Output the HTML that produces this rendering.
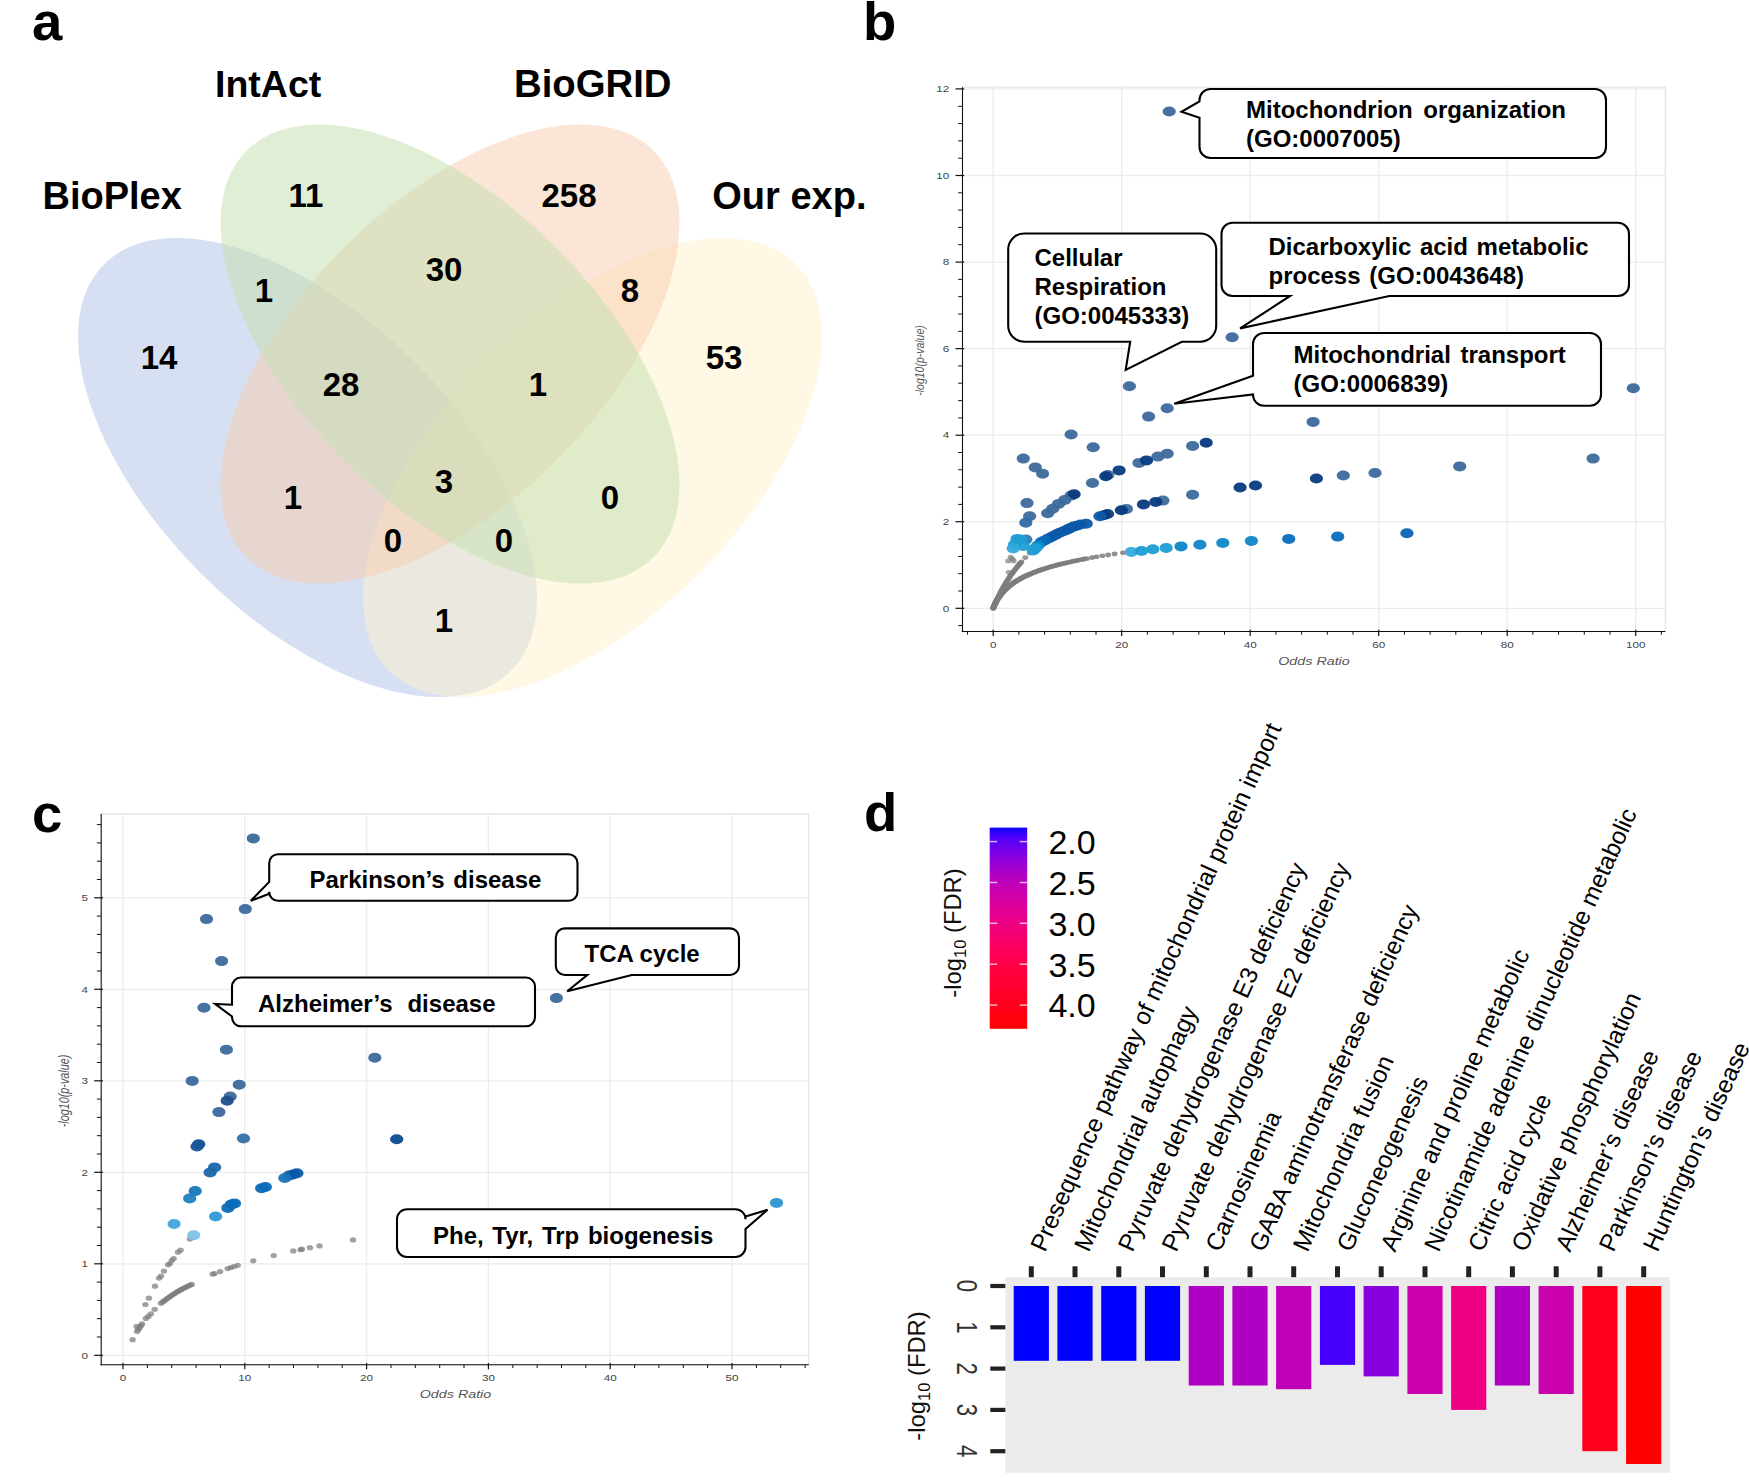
<!DOCTYPE html>
<html lang="en"><head><meta charset="utf-8"><title>Figure</title>
<style>html,body{margin:0;padding:0;background:#fff;}svg{display:block;}text{font-family:"Liberation Sans", Arial, Helvetica, sans-serif;}.pl{font-weight:700;font-size:54.5px;fill:#000;}.vl{font-weight:700;font-size:37.5px;fill:#000;}.vn{font-weight:700;font-size:33px;fill:#000;text-anchor:middle;}.cb{font-weight:700;font-size:24px;fill:#000;}.tk{font-size:9px;fill:#444;}.ax{font-size:11px;fill:#555;font-style:italic;}.dl{font-size:24.4px;fill:#000;}.lg{font-size:34px;fill:#000;}.ti{font-size:23.8px;fill:#111;}.yd{font-size:30px;fill:#333;text-anchor:middle;}</style></head><body>
<svg width="1749" height="1484" viewBox="0 0 1749 1484">
<rect width="1749" height="1484" fill="#fff"/>
<g id="panel-a">
<ellipse cx="307.5" cy="467.5" rx="287.6" ry="150.35" transform="rotate(45 307.5 467.5)" fill="#b4c7e7" fill-opacity="0.55"/>
<ellipse cx="592.5" cy="467.5" rx="287.6" ry="150.35" transform="rotate(-45 592.5 467.5)" fill="#fff2cc" fill-opacity="0.5"/>
<ellipse cx="450" cy="354" rx="287.6" ry="150.35" transform="rotate(-45 450 354)" fill="#f8cbad" fill-opacity="0.5"/>
<ellipse cx="450" cy="354" rx="287.6" ry="150.35" transform="rotate(45 450 354)" fill="#c5e0b4" fill-opacity="0.54"/>
<text class="pl" x="32" y="40">a</text>
<text class="vl" x="215" y="97">IntAct</text>
<text class="vl" x="514" y="96.7" style="font-size:38.3px">BioGRID</text>
<text class="vl" x="42.5" y="209" style="font-size:38px">BioPlex</text>
<text class="vl" x="712.3" y="209.3" style="font-size:38px">Our exp.</text>
<text class="vn" x="306" y="207">11</text>
<text class="vn" x="569" y="207">258</text>
<text class="vn" x="444" y="281">30</text>
<text class="vn" x="264" y="302">1</text>
<text class="vn" x="630" y="302">8</text>
<text class="vn" x="159" y="369">14</text>
<text class="vn" x="724" y="369">53</text>
<text class="vn" x="341" y="396">28</text>
<text class="vn" x="538" y="396">1</text>
<text class="vn" x="444" y="493">3</text>
<text class="vn" x="293" y="509">1</text>
<text class="vn" x="610" y="509">0</text>
<text class="vn" x="393" y="552">0</text>
<text class="vn" x="504" y="552">0</text>
<text class="vn" x="444" y="632">1</text>
</g>
<g id="panel-b">
<text class="pl" x="863" y="40">b</text>
<rect x="962.5" y="87.2" width="702.8" height="544.3" fill="#fff" stroke="#e6e6e6" stroke-width="1.4"/>
<line x1="993.2" y1="87.2" x2="993.2" y2="631.5" stroke="#ececec" stroke-width="1.3"/>
<line x1="1121.7" y1="87.2" x2="1121.7" y2="631.5" stroke="#ececec" stroke-width="1.3"/>
<line x1="1250.2" y1="87.2" x2="1250.2" y2="631.5" stroke="#ececec" stroke-width="1.3"/>
<line x1="1378.7" y1="87.2" x2="1378.7" y2="631.5" stroke="#ececec" stroke-width="1.3"/>
<line x1="1507.2" y1="87.2" x2="1507.2" y2="631.5" stroke="#ececec" stroke-width="1.3"/>
<line x1="1635.7" y1="87.2" x2="1635.7" y2="631.5" stroke="#ececec" stroke-width="1.3"/>
<line x1="962.5" y1="608.3" x2="1665.3" y2="608.3" stroke="#ececec" stroke-width="1.3"/>
<line x1="962.5" y1="521.7" x2="1665.3" y2="521.7" stroke="#ececec" stroke-width="1.3"/>
<line x1="962.5" y1="435.2" x2="1665.3" y2="435.2" stroke="#ececec" stroke-width="1.3"/>
<line x1="962.5" y1="348.6" x2="1665.3" y2="348.6" stroke="#ececec" stroke-width="1.3"/>
<line x1="962.5" y1="262.1" x2="1665.3" y2="262.1" stroke="#ececec" stroke-width="1.3"/>
<line x1="962.5" y1="175.5" x2="1665.3" y2="175.5" stroke="#ececec" stroke-width="1.3"/>
<line x1="962.5" y1="88.9" x2="1665.3" y2="88.9" stroke="#ececec" stroke-width="1.3"/>
<line x1="962.5" y1="87.2" x2="962.5" y2="632.0" stroke="#111" stroke-width="1.05"/>
<line x1="961.7" y1="631.5" x2="1665.3" y2="631.5" stroke="#111" stroke-width="1.05"/>
<line x1="993.2" y1="629.7" x2="993.2" y2="636.0" stroke="#111" stroke-width="1.2"/>
<text class="tk" text-anchor="middle" transform="translate(993.2 648.0) scale(1.3 1)">0</text>
<line x1="1121.7" y1="629.7" x2="1121.7" y2="636.0" stroke="#111" stroke-width="1.2"/>
<text class="tk" text-anchor="middle" transform="translate(1121.7 648.0) scale(1.3 1)">20</text>
<line x1="1250.2" y1="629.7" x2="1250.2" y2="636.0" stroke="#111" stroke-width="1.2"/>
<text class="tk" text-anchor="middle" transform="translate(1250.2 648.0) scale(1.3 1)">40</text>
<line x1="1378.7" y1="629.7" x2="1378.7" y2="636.0" stroke="#111" stroke-width="1.2"/>
<text class="tk" text-anchor="middle" transform="translate(1378.7 648.0) scale(1.3 1)">60</text>
<line x1="1507.2" y1="629.7" x2="1507.2" y2="636.0" stroke="#111" stroke-width="1.2"/>
<text class="tk" text-anchor="middle" transform="translate(1507.2 648.0) scale(1.3 1)">80</text>
<line x1="1635.7" y1="629.7" x2="1635.7" y2="636.0" stroke="#111" stroke-width="1.2"/>
<text class="tk" text-anchor="middle" transform="translate(1635.7 648.0) scale(1.3 1)">100</text>
<line x1="967.5" y1="631.5" x2="967.5" y2="634.7" stroke="#111" stroke-width="1"/>
<line x1="1018.9" y1="631.5" x2="1018.9" y2="634.7" stroke="#111" stroke-width="1"/>
<line x1="1044.6" y1="631.5" x2="1044.6" y2="634.7" stroke="#111" stroke-width="1"/>
<line x1="1070.3" y1="631.5" x2="1070.3" y2="634.7" stroke="#111" stroke-width="1"/>
<line x1="1096.0" y1="631.5" x2="1096.0" y2="634.7" stroke="#111" stroke-width="1"/>
<line x1="1147.4" y1="631.5" x2="1147.4" y2="634.7" stroke="#111" stroke-width="1"/>
<line x1="1173.1" y1="631.5" x2="1173.1" y2="634.7" stroke="#111" stroke-width="1"/>
<line x1="1198.8" y1="631.5" x2="1198.8" y2="634.7" stroke="#111" stroke-width="1"/>
<line x1="1224.5" y1="631.5" x2="1224.5" y2="634.7" stroke="#111" stroke-width="1"/>
<line x1="1275.9" y1="631.5" x2="1275.9" y2="634.7" stroke="#111" stroke-width="1"/>
<line x1="1301.6" y1="631.5" x2="1301.6" y2="634.7" stroke="#111" stroke-width="1"/>
<line x1="1327.3" y1="631.5" x2="1327.3" y2="634.7" stroke="#111" stroke-width="1"/>
<line x1="1353.0" y1="631.5" x2="1353.0" y2="634.7" stroke="#111" stroke-width="1"/>
<line x1="1404.4" y1="631.5" x2="1404.4" y2="634.7" stroke="#111" stroke-width="1"/>
<line x1="1430.1" y1="631.5" x2="1430.1" y2="634.7" stroke="#111" stroke-width="1"/>
<line x1="1455.8" y1="631.5" x2="1455.8" y2="634.7" stroke="#111" stroke-width="1"/>
<line x1="1481.5" y1="631.5" x2="1481.5" y2="634.7" stroke="#111" stroke-width="1"/>
<line x1="1532.9" y1="631.5" x2="1532.9" y2="634.7" stroke="#111" stroke-width="1"/>
<line x1="1558.6" y1="631.5" x2="1558.6" y2="634.7" stroke="#111" stroke-width="1"/>
<line x1="1584.3" y1="631.5" x2="1584.3" y2="634.7" stroke="#111" stroke-width="1"/>
<line x1="1610.0" y1="631.5" x2="1610.0" y2="634.7" stroke="#111" stroke-width="1"/>
<line x1="1661.4" y1="631.5" x2="1661.4" y2="634.7" stroke="#111" stroke-width="1"/>
<line x1="955.5" y1="608.3" x2="964.2" y2="608.3" stroke="#111" stroke-width="1.2"/>
<text class="tk" text-anchor="end" transform="translate(949.2 611.5) scale(1.3 1)">0</text>
<line x1="955.5" y1="521.7" x2="964.2" y2="521.7" stroke="#111" stroke-width="1.2"/>
<text class="tk" text-anchor="end" transform="translate(949.2 524.9) scale(1.3 1)">2</text>
<line x1="955.5" y1="435.2" x2="964.2" y2="435.2" stroke="#111" stroke-width="1.2"/>
<text class="tk" text-anchor="end" transform="translate(949.2 438.4) scale(1.3 1)">4</text>
<line x1="955.5" y1="348.6" x2="964.2" y2="348.6" stroke="#111" stroke-width="1.2"/>
<text class="tk" text-anchor="end" transform="translate(949.2 351.8) scale(1.3 1)">6</text>
<line x1="955.5" y1="262.1" x2="964.2" y2="262.1" stroke="#111" stroke-width="1.2"/>
<text class="tk" text-anchor="end" transform="translate(949.2 265.3) scale(1.3 1)">8</text>
<line x1="955.5" y1="175.5" x2="964.2" y2="175.5" stroke="#111" stroke-width="1.2"/>
<text class="tk" text-anchor="end" transform="translate(949.2 178.7) scale(1.3 1)">10</text>
<line x1="955.5" y1="88.9" x2="964.2" y2="88.9" stroke="#111" stroke-width="1.2"/>
<text class="tk" text-anchor="end" transform="translate(949.2 92.1) scale(1.3 1)">12</text>
<line x1="958.2" y1="625.6" x2="962.5" y2="625.6" stroke="#111" stroke-width="1"/>
<line x1="958.2" y1="591.0" x2="962.5" y2="591.0" stroke="#111" stroke-width="1"/>
<line x1="958.2" y1="573.7" x2="962.5" y2="573.7" stroke="#111" stroke-width="1"/>
<line x1="958.2" y1="556.4" x2="962.5" y2="556.4" stroke="#111" stroke-width="1"/>
<line x1="958.2" y1="539.1" x2="962.5" y2="539.1" stroke="#111" stroke-width="1"/>
<line x1="958.2" y1="504.4" x2="962.5" y2="504.4" stroke="#111" stroke-width="1"/>
<line x1="958.2" y1="487.1" x2="962.5" y2="487.1" stroke="#111" stroke-width="1"/>
<line x1="958.2" y1="469.8" x2="962.5" y2="469.8" stroke="#111" stroke-width="1"/>
<line x1="958.2" y1="452.5" x2="962.5" y2="452.5" stroke="#111" stroke-width="1"/>
<line x1="958.2" y1="417.9" x2="962.5" y2="417.9" stroke="#111" stroke-width="1"/>
<line x1="958.2" y1="400.6" x2="962.5" y2="400.6" stroke="#111" stroke-width="1"/>
<line x1="958.2" y1="383.2" x2="962.5" y2="383.2" stroke="#111" stroke-width="1"/>
<line x1="958.2" y1="365.9" x2="962.5" y2="365.9" stroke="#111" stroke-width="1"/>
<line x1="958.2" y1="331.3" x2="962.5" y2="331.3" stroke="#111" stroke-width="1"/>
<line x1="958.2" y1="314.0" x2="962.5" y2="314.0" stroke="#111" stroke-width="1"/>
<line x1="958.2" y1="296.7" x2="962.5" y2="296.7" stroke="#111" stroke-width="1"/>
<line x1="958.2" y1="279.4" x2="962.5" y2="279.4" stroke="#111" stroke-width="1"/>
<line x1="958.2" y1="244.7" x2="962.5" y2="244.7" stroke="#111" stroke-width="1"/>
<line x1="958.2" y1="227.4" x2="962.5" y2="227.4" stroke="#111" stroke-width="1"/>
<line x1="958.2" y1="210.1" x2="962.5" y2="210.1" stroke="#111" stroke-width="1"/>
<line x1="958.2" y1="192.8" x2="962.5" y2="192.8" stroke="#111" stroke-width="1"/>
<line x1="958.2" y1="158.2" x2="962.5" y2="158.2" stroke="#111" stroke-width="1"/>
<line x1="958.2" y1="140.9" x2="962.5" y2="140.9" stroke="#111" stroke-width="1"/>
<line x1="958.2" y1="123.6" x2="962.5" y2="123.6" stroke="#111" stroke-width="1"/>
<line x1="958.2" y1="106.3" x2="962.5" y2="106.3" stroke="#111" stroke-width="1"/>
<text class="ax" text-anchor="middle" transform="translate(1314 664.5) scale(1.3 1)">Odds Ratio</text>
<text class="ax" style="font-size:10.5px" text-anchor="middle" transform="translate(923.7 360.5) scale(1.3 1) rotate(-90)">-log10(p-value)</text>
<ellipse cx="993.2" cy="608.3" rx="3.0" ry="2.4" fill="#7d7d7d" fill-opacity="0.92"/>
<ellipse cx="993.4" cy="607.8" rx="3.0" ry="2.4" fill="#7d7d7d" fill-opacity="0.92"/>
<ellipse cx="993.6" cy="607.3" rx="3.0" ry="2.4" fill="#7d7d7d" fill-opacity="0.92"/>
<ellipse cx="993.8" cy="606.8" rx="3.0" ry="2.4" fill="#7d7d7d" fill-opacity="0.92"/>
<ellipse cx="994.0" cy="606.3" rx="3.0" ry="2.4" fill="#7d7d7d" fill-opacity="0.92"/>
<ellipse cx="994.2" cy="605.8" rx="3.0" ry="2.4" fill="#7d7d7d" fill-opacity="0.92"/>
<ellipse cx="994.4" cy="605.3" rx="3.0" ry="2.4" fill="#7d7d7d" fill-opacity="0.92"/>
<ellipse cx="994.7" cy="604.7" rx="3.0" ry="2.4" fill="#7d7d7d" fill-opacity="0.92"/>
<ellipse cx="994.9" cy="604.2" rx="3.0" ry="2.4" fill="#7d7d7d" fill-opacity="0.92"/>
<ellipse cx="995.2" cy="603.7" rx="3.0" ry="2.4" fill="#7d7d7d" fill-opacity="0.92"/>
<ellipse cx="995.4" cy="603.2" rx="3.0" ry="2.4" fill="#7d7d7d" fill-opacity="0.92"/>
<ellipse cx="995.7" cy="602.7" rx="3.0" ry="2.4" fill="#7d7d7d" fill-opacity="0.92"/>
<ellipse cx="995.9" cy="602.2" rx="3.0" ry="2.4" fill="#7d7d7d" fill-opacity="0.92"/>
<ellipse cx="996.2" cy="601.7" rx="3.0" ry="2.4" fill="#7d7d7d" fill-opacity="0.92"/>
<ellipse cx="996.5" cy="601.1" rx="3.0" ry="2.4" fill="#7d7d7d" fill-opacity="0.92"/>
<ellipse cx="996.8" cy="600.6" rx="3.0" ry="2.4" fill="#7d7d7d" fill-opacity="0.92"/>
<ellipse cx="997.1" cy="600.1" rx="3.0" ry="2.4" fill="#7d7d7d" fill-opacity="0.92"/>
<ellipse cx="997.4" cy="599.6" rx="3.0" ry="2.4" fill="#7d7d7d" fill-opacity="0.92"/>
<ellipse cx="997.7" cy="599.0" rx="3.0" ry="2.4" fill="#7d7d7d" fill-opacity="0.92"/>
<ellipse cx="998.0" cy="598.5" rx="3.0" ry="2.4" fill="#7d7d7d" fill-opacity="0.92"/>
<ellipse cx="998.4" cy="598.0" rx="3.0" ry="2.4" fill="#7d7d7d" fill-opacity="0.92"/>
<ellipse cx="998.7" cy="597.5" rx="3.0" ry="2.4" fill="#7d7d7d" fill-opacity="0.92"/>
<ellipse cx="999.1" cy="596.9" rx="3.0" ry="2.4" fill="#7d7d7d" fill-opacity="0.92"/>
<ellipse cx="999.5" cy="596.4" rx="3.0" ry="2.4" fill="#7d7d7d" fill-opacity="0.92"/>
<ellipse cx="999.8" cy="595.9" rx="3.0" ry="2.4" fill="#7d7d7d" fill-opacity="0.92"/>
<ellipse cx="1000.2" cy="595.4" rx="3.0" ry="2.4" fill="#7d7d7d" fill-opacity="0.92"/>
<ellipse cx="1000.6" cy="594.8" rx="3.0" ry="2.4" fill="#7d7d7d" fill-opacity="0.92"/>
<ellipse cx="1001.0" cy="594.3" rx="3.0" ry="2.4" fill="#7d7d7d" fill-opacity="0.92"/>
<ellipse cx="1001.5" cy="593.8" rx="3.0" ry="2.4" fill="#7d7d7d" fill-opacity="0.92"/>
<ellipse cx="1001.9" cy="593.2" rx="3.0" ry="2.4" fill="#7d7d7d" fill-opacity="0.92"/>
<ellipse cx="1002.4" cy="592.7" rx="3.0" ry="2.4" fill="#7d7d7d" fill-opacity="0.92"/>
<ellipse cx="1002.8" cy="592.2" rx="3.0" ry="2.4" fill="#7d7d7d" fill-opacity="0.92"/>
<ellipse cx="1003.3" cy="591.6" rx="3.0" ry="2.4" fill="#7d7d7d" fill-opacity="0.92"/>
<ellipse cx="1003.8" cy="591.1" rx="3.0" ry="2.4" fill="#7d7d7d" fill-opacity="0.92"/>
<ellipse cx="1004.3" cy="590.6" rx="3.0" ry="2.4" fill="#7d7d7d" fill-opacity="0.92"/>
<ellipse cx="1004.9" cy="590.0" rx="3.0" ry="2.4" fill="#7d7d7d" fill-opacity="0.92"/>
<ellipse cx="1005.4" cy="589.5" rx="3.0" ry="2.4" fill="#7d7d7d" fill-opacity="0.92"/>
<ellipse cx="1006.0" cy="589.0" rx="3.0" ry="2.4" fill="#7d7d7d" fill-opacity="0.92"/>
<ellipse cx="1006.5" cy="588.4" rx="3.0" ry="2.4" fill="#7d7d7d" fill-opacity="0.92"/>
<ellipse cx="1007.1" cy="587.9" rx="3.0" ry="2.4" fill="#7d7d7d" fill-opacity="0.92"/>
<ellipse cx="1007.7" cy="587.4" rx="3.0" ry="2.4" fill="#7d7d7d" fill-opacity="0.92"/>
<ellipse cx="1008.4" cy="586.8" rx="3.0" ry="2.4" fill="#7d7d7d" fill-opacity="0.92"/>
<ellipse cx="1009.0" cy="586.3" rx="3.0" ry="2.4" fill="#7d7d7d" fill-opacity="0.92"/>
<ellipse cx="1009.7" cy="585.7" rx="3.0" ry="2.4" fill="#7d7d7d" fill-opacity="0.92"/>
<ellipse cx="1010.4" cy="585.2" rx="3.0" ry="2.4" fill="#7d7d7d" fill-opacity="0.92"/>
<ellipse cx="1011.1" cy="584.7" rx="3.0" ry="2.4" fill="#7d7d7d" fill-opacity="0.92"/>
<ellipse cx="1011.8" cy="584.1" rx="3.0" ry="2.4" fill="#7d7d7d" fill-opacity="0.92"/>
<ellipse cx="1012.6" cy="583.6" rx="3.0" ry="2.4" fill="#7d7d7d" fill-opacity="0.92"/>
<ellipse cx="1013.3" cy="583.0" rx="3.0" ry="2.4" fill="#7d7d7d" fill-opacity="0.92"/>
<ellipse cx="1014.1" cy="582.5" rx="3.0" ry="2.4" fill="#7d7d7d" fill-opacity="0.92"/>
<ellipse cx="1014.9" cy="582.0" rx="3.0" ry="2.4" fill="#7d7d7d" fill-opacity="0.92"/>
<ellipse cx="1015.8" cy="581.4" rx="3.0" ry="2.4" fill="#7d7d7d" fill-opacity="0.92"/>
<ellipse cx="1016.7" cy="580.9" rx="3.0" ry="2.4" fill="#7d7d7d" fill-opacity="0.92"/>
<ellipse cx="1017.6" cy="580.3" rx="3.0" ry="2.4" fill="#7d7d7d" fill-opacity="0.92"/>
<ellipse cx="1018.5" cy="579.8" rx="3.0" ry="2.4" fill="#7d7d7d" fill-opacity="0.92"/>
<ellipse cx="1019.4" cy="579.3" rx="3.0" ry="2.4" fill="#7d7d7d" fill-opacity="0.92"/>
<ellipse cx="1020.4" cy="578.7" rx="3.0" ry="2.4" fill="#7d7d7d" fill-opacity="0.92"/>
<ellipse cx="1021.4" cy="578.2" rx="3.0" ry="2.4" fill="#7d7d7d" fill-opacity="0.92"/>
<ellipse cx="1022.5" cy="577.6" rx="3.0" ry="2.4" fill="#7d7d7d" fill-opacity="0.92"/>
<ellipse cx="1023.5" cy="577.1" rx="3.0" ry="2.4" fill="#7d7d7d" fill-opacity="0.92"/>
<ellipse cx="1024.6" cy="576.5" rx="3.0" ry="2.4" fill="#7d7d7d" fill-opacity="0.92"/>
<ellipse cx="1025.8" cy="576.0" rx="3.0" ry="2.4" fill="#7d7d7d" fill-opacity="0.92"/>
<ellipse cx="1026.9" cy="575.4" rx="3.0" ry="2.4" fill="#7d7d7d" fill-opacity="0.92"/>
<ellipse cx="1028.1" cy="574.9" rx="3.0" ry="2.4" fill="#7d7d7d" fill-opacity="0.92"/>
<ellipse cx="1029.4" cy="574.4" rx="3.0" ry="2.4" fill="#7d7d7d" fill-opacity="0.92"/>
<ellipse cx="1030.7" cy="573.8" rx="3.0" ry="2.4" fill="#7d7d7d" fill-opacity="0.92"/>
<ellipse cx="1032.0" cy="573.3" rx="3.0" ry="2.4" fill="#7d7d7d" fill-opacity="0.92"/>
<ellipse cx="1033.3" cy="572.7" rx="3.0" ry="2.4" fill="#7d7d7d" fill-opacity="0.92"/>
<ellipse cx="1034.7" cy="572.2" rx="3.0" ry="2.4" fill="#7d7d7d" fill-opacity="0.92"/>
<ellipse cx="1036.2" cy="571.6" rx="3.0" ry="2.4" fill="#7d7d7d" fill-opacity="0.92"/>
<ellipse cx="1037.6" cy="571.1" rx="3.0" ry="2.4" fill="#7d7d7d" fill-opacity="0.92"/>
<ellipse cx="1039.2" cy="570.5" rx="3.0" ry="2.4" fill="#7d7d7d" fill-opacity="0.92"/>
<ellipse cx="1040.7" cy="570.0" rx="3.0" ry="2.4" fill="#7d7d7d" fill-opacity="0.92"/>
<ellipse cx="1042.4" cy="569.4" rx="3.0" ry="2.4" fill="#7d7d7d" fill-opacity="0.92"/>
<ellipse cx="1044.0" cy="568.9" rx="3.0" ry="2.4" fill="#7d7d7d" fill-opacity="0.92"/>
<ellipse cx="1045.7" cy="568.3" rx="3.0" ry="2.4" fill="#7d7d7d" fill-opacity="0.92"/>
<ellipse cx="1047.5" cy="567.8" rx="3.0" ry="2.4" fill="#7d7d7d" fill-opacity="0.92"/>
<ellipse cx="1049.3" cy="567.2" rx="3.0" ry="2.4" fill="#7d7d7d" fill-opacity="0.92"/>
<ellipse cx="1051.2" cy="566.7" rx="3.0" ry="2.4" fill="#7d7d7d" fill-opacity="0.92"/>
<ellipse cx="1053.2" cy="566.1" rx="3.0" ry="2.4" fill="#7d7d7d" fill-opacity="0.92"/>
<ellipse cx="1055.1" cy="565.6" rx="3.0" ry="2.4" fill="#7d7d7d" fill-opacity="0.92"/>
<ellipse cx="1057.2" cy="565.0" rx="3.0" ry="2.4" fill="#7d7d7d" fill-opacity="0.92"/>
<ellipse cx="1059.3" cy="564.5" rx="3.0" ry="2.4" fill="#7d7d7d" fill-opacity="0.92"/>
<ellipse cx="1061.5" cy="563.9" rx="3.0" ry="2.4" fill="#7d7d7d" fill-opacity="0.92"/>
<ellipse cx="1063.7" cy="563.4" rx="3.0" ry="2.4" fill="#7d7d7d" fill-opacity="0.92"/>
<ellipse cx="1066.0" cy="562.9" rx="3.0" ry="2.4" fill="#7d7d7d" fill-opacity="0.92"/>
<ellipse cx="1068.4" cy="562.3" rx="3.0" ry="2.4" fill="#7d7d7d" fill-opacity="0.92"/>
<ellipse cx="1070.9" cy="561.8" rx="3.0" ry="2.4" fill="#7d7d7d" fill-opacity="0.92"/>
<ellipse cx="1073.4" cy="561.2" rx="3.0" ry="2.4" fill="#7d7d7d" fill-opacity="0.92"/>
<ellipse cx="1076.0" cy="560.7" rx="3.0" ry="2.4" fill="#7d7d7d" fill-opacity="0.92"/>
<ellipse cx="1078.7" cy="560.1" rx="3.0" ry="2.4" fill="#7d7d7d" fill-opacity="0.92"/>
<ellipse cx="1081.4" cy="559.6" rx="3.0" ry="2.4" fill="#7d7d7d" fill-opacity="0.92"/>
<ellipse cx="1084.3" cy="559.0" rx="3.0" ry="2.4" fill="#7d7d7d" fill-opacity="0.92"/>
<ellipse cx="1087.0" cy="558.5" rx="2.9" ry="2.3" fill="#7d7d7d" fill-opacity="0.85"/>
<ellipse cx="1092.1" cy="557.6" rx="2.9" ry="2.3" fill="#7d7d7d" fill-opacity="0.85"/>
<ellipse cx="1096.6" cy="556.8" rx="2.9" ry="2.3" fill="#7d7d7d" fill-opacity="0.85"/>
<ellipse cx="1102.4" cy="555.8" rx="2.9" ry="2.3" fill="#7d7d7d" fill-opacity="0.85"/>
<ellipse cx="1108.2" cy="554.9" rx="2.9" ry="2.3" fill="#7d7d7d" fill-opacity="0.85"/>
<ellipse cx="1114.6" cy="553.9" rx="2.9" ry="2.3" fill="#7d7d7d" fill-opacity="0.85"/>
<ellipse cx="1123.0" cy="552.8" rx="2.9" ry="2.3" fill="#7d7d7d" fill-opacity="0.85"/>
<ellipse cx="993.2" cy="608.3" rx="2.8" ry="2.2" fill="#7d7d7d" fill-opacity="0.8"/>
<ellipse cx="993.8" cy="606.8" rx="2.8" ry="2.2" fill="#7d7d7d" fill-opacity="0.8"/>
<ellipse cx="994.4" cy="605.4" rx="2.8" ry="2.2" fill="#7d7d7d" fill-opacity="0.8"/>
<ellipse cx="994.9" cy="604.1" rx="2.8" ry="2.2" fill="#7d7d7d" fill-opacity="0.8"/>
<ellipse cx="995.5" cy="602.7" rx="2.8" ry="2.2" fill="#7d7d7d" fill-opacity="0.8"/>
<ellipse cx="996.1" cy="601.4" rx="2.8" ry="2.2" fill="#7d7d7d" fill-opacity="0.8"/>
<ellipse cx="996.7" cy="600.1" rx="2.8" ry="2.2" fill="#7d7d7d" fill-opacity="0.8"/>
<ellipse cx="997.2" cy="598.8" rx="2.8" ry="2.2" fill="#7d7d7d" fill-opacity="0.8"/>
<ellipse cx="997.8" cy="597.6" rx="2.8" ry="2.2" fill="#7d7d7d" fill-opacity="0.8"/>
<ellipse cx="998.4" cy="596.4" rx="2.8" ry="2.2" fill="#7d7d7d" fill-opacity="0.8"/>
<ellipse cx="999.0" cy="595.2" rx="2.8" ry="2.2" fill="#7d7d7d" fill-opacity="0.8"/>
<ellipse cx="999.6" cy="594.1" rx="2.8" ry="2.2" fill="#7d7d7d" fill-opacity="0.8"/>
<ellipse cx="1000.1" cy="592.9" rx="2.8" ry="2.2" fill="#7d7d7d" fill-opacity="0.8"/>
<ellipse cx="1000.7" cy="591.8" rx="2.8" ry="2.2" fill="#7d7d7d" fill-opacity="0.8"/>
<ellipse cx="1001.3" cy="590.7" rx="2.8" ry="2.2" fill="#7d7d7d" fill-opacity="0.8"/>
<ellipse cx="1001.9" cy="589.7" rx="2.8" ry="2.2" fill="#7d7d7d" fill-opacity="0.8"/>
<ellipse cx="1002.5" cy="588.6" rx="2.8" ry="2.2" fill="#7d7d7d" fill-opacity="0.8"/>
<ellipse cx="1003.0" cy="587.6" rx="2.8" ry="2.2" fill="#7d7d7d" fill-opacity="0.8"/>
<ellipse cx="1003.6" cy="586.6" rx="2.8" ry="2.2" fill="#7d7d7d" fill-opacity="0.8"/>
<ellipse cx="1004.2" cy="585.6" rx="2.8" ry="2.2" fill="#7d7d7d" fill-opacity="0.8"/>
<ellipse cx="1004.8" cy="584.6" rx="2.8" ry="2.2" fill="#7d7d7d" fill-opacity="0.8"/>
<ellipse cx="1005.3" cy="583.6" rx="2.8" ry="2.2" fill="#7d7d7d" fill-opacity="0.8"/>
<ellipse cx="1005.9" cy="582.7" rx="2.8" ry="2.2" fill="#7d7d7d" fill-opacity="0.8"/>
<ellipse cx="1006.5" cy="581.8" rx="2.8" ry="2.2" fill="#7d7d7d" fill-opacity="0.8"/>
<ellipse cx="1007.1" cy="580.8" rx="2.8" ry="2.2" fill="#7d7d7d" fill-opacity="0.8"/>
<ellipse cx="1007.7" cy="579.9" rx="2.8" ry="2.2" fill="#7d7d7d" fill-opacity="0.8"/>
<ellipse cx="1008.2" cy="579.1" rx="2.8" ry="2.2" fill="#7d7d7d" fill-opacity="0.8"/>
<ellipse cx="1008.8" cy="578.2" rx="2.8" ry="2.2" fill="#7d7d7d" fill-opacity="0.8"/>
<ellipse cx="1009.4" cy="577.3" rx="2.8" ry="2.2" fill="#7d7d7d" fill-opacity="0.8"/>
<ellipse cx="1010.0" cy="576.5" rx="2.8" ry="2.2" fill="#7d7d7d" fill-opacity="0.8"/>
<ellipse cx="1010.5" cy="575.6" rx="2.8" ry="2.2" fill="#7d7d7d" fill-opacity="0.8"/>
<ellipse cx="1011.1" cy="574.8" rx="2.8" ry="2.2" fill="#7d7d7d" fill-opacity="0.8"/>
<ellipse cx="1011.7" cy="574.0" rx="2.8" ry="2.2" fill="#7d7d7d" fill-opacity="0.8"/>
<ellipse cx="1012.3" cy="573.2" rx="2.8" ry="2.2" fill="#7d7d7d" fill-opacity="0.8"/>
<ellipse cx="1012.9" cy="572.4" rx="2.8" ry="2.2" fill="#7d7d7d" fill-opacity="0.8"/>
<ellipse cx="1013.4" cy="571.6" rx="2.8" ry="2.2" fill="#7d7d7d" fill-opacity="0.8"/>
<ellipse cx="1014.0" cy="570.9" rx="2.8" ry="2.2" fill="#7d7d7d" fill-opacity="0.8"/>
<ellipse cx="1014.6" cy="570.1" rx="2.8" ry="2.2" fill="#7d7d7d" fill-opacity="0.8"/>
<ellipse cx="1015.2" cy="569.4" rx="2.8" ry="2.2" fill="#7d7d7d" fill-opacity="0.8"/>
<ellipse cx="1015.8" cy="568.6" rx="2.8" ry="2.2" fill="#7d7d7d" fill-opacity="0.8"/>
<ellipse cx="1016.3" cy="567.9" rx="2.8" ry="2.2" fill="#7d7d7d" fill-opacity="0.8"/>
<ellipse cx="1016.9" cy="567.2" rx="2.8" ry="2.2" fill="#7d7d7d" fill-opacity="0.8"/>
<ellipse cx="1017.5" cy="566.5" rx="2.8" ry="2.2" fill="#7d7d7d" fill-opacity="0.8"/>
<ellipse cx="1018.1" cy="565.8" rx="2.8" ry="2.2" fill="#7d7d7d" fill-opacity="0.8"/>
<ellipse cx="1018.6" cy="565.1" rx="2.8" ry="2.2" fill="#7d7d7d" fill-opacity="0.8"/>
<ellipse cx="1019.2" cy="564.4" rx="2.8" ry="2.2" fill="#7d7d7d" fill-opacity="0.8"/>
<ellipse cx="1019.8" cy="563.7" rx="2.8" ry="2.2" fill="#7d7d7d" fill-opacity="0.8"/>
<ellipse cx="1020.4" cy="563.0" rx="2.8" ry="2.2" fill="#7d7d7d" fill-opacity="0.8"/>
<ellipse cx="1021.0" cy="562.4" rx="2.8" ry="2.2" fill="#7d7d7d" fill-opacity="0.8"/>
<ellipse cx="1021.5" cy="561.7" rx="2.8" ry="2.2" fill="#7d7d7d" fill-opacity="0.8"/>
<ellipse cx="1025.3" cy="557.6" rx="3.0" ry="2.4" fill="#7d7d7d" fill-opacity="0.8"/>
<ellipse cx="1029.8" cy="553.1" rx="3.0" ry="2.4" fill="#7d7d7d" fill-opacity="0.8"/>
<ellipse cx="1010.7" cy="557.2" rx="3.0" ry="2.4" fill="#7d7d7d" fill-opacity="0.7"/>
<ellipse cx="1008.2" cy="561.0" rx="3.0" ry="2.4" fill="#7d7d7d" fill-opacity="0.7"/>
<ellipse cx="1012.5" cy="559.2" rx="3.0" ry="2.4" fill="#7d7d7d" fill-opacity="0.7"/>
<ellipse cx="1008.7" cy="572.3" rx="3.0" ry="2.4" fill="#7d7d7d" fill-opacity="0.7"/>
<ellipse cx="1013.7" cy="561.0" rx="3.0" ry="2.4" fill="#7d7d7d" fill-opacity="0.7"/>
<ellipse cx="1167.2" cy="408.3" rx="6.6" ry="5" fill="#3c699b" fill-opacity="0.95"/>
<ellipse cx="1148.6" cy="416.6" rx="6.6" ry="5" fill="#3c699b" fill-opacity="0.95"/>
<ellipse cx="1313.1" cy="421.9" rx="6.6" ry="5" fill="#3c699b" fill-opacity="0.95"/>
<ellipse cx="1071.1" cy="434.5" rx="6.6" ry="5" fill="#3c699b" fill-opacity="0.95"/>
<ellipse cx="1093.2" cy="447.3" rx="6.6" ry="5" fill="#3c699b" fill-opacity="0.95"/>
<ellipse cx="1023.3" cy="458.6" rx="6.6" ry="5" fill="#3c699b" fill-opacity="0.95"/>
<ellipse cx="1035.3" cy="467.4" rx="6.6" ry="5" fill="#3c699b" fill-opacity="0.95"/>
<ellipse cx="1042.6" cy="473.7" rx="6.6" ry="5" fill="#3c699b" fill-opacity="0.95"/>
<ellipse cx="1192.6" cy="446.0" rx="6.6" ry="5" fill="#3c699b" fill-opacity="0.95"/>
<ellipse cx="1206.2" cy="442.8" rx="6.6" ry="5" fill="#083a80" fill-opacity="0.95"/>
<ellipse cx="1167.2" cy="453.8" rx="6.6" ry="5" fill="#3c699b" fill-opacity="0.95"/>
<ellipse cx="1157.9" cy="456.6" rx="6.6" ry="5" fill="#3c699b" fill-opacity="0.95"/>
<ellipse cx="1139.0" cy="462.9" rx="6.6" ry="5" fill="#3c699b" fill-opacity="0.95"/>
<ellipse cx="1146.5" cy="460.4" rx="6.6" ry="5" fill="#083a80" fill-opacity="0.95"/>
<ellipse cx="1119.1" cy="470.4" rx="6.6" ry="5" fill="#083a80" fill-opacity="0.95"/>
<ellipse cx="1107.8" cy="475.0" rx="6.6" ry="5" fill="#3c699b" fill-opacity="0.95"/>
<ellipse cx="1105.8" cy="476.2" rx="6.6" ry="5" fill="#083a80" fill-opacity="0.95"/>
<ellipse cx="1092.5" cy="483.0" rx="6.6" ry="5" fill="#3c699b" fill-opacity="0.95"/>
<ellipse cx="1071.1" cy="495.6" rx="6.6" ry="5" fill="#3c699b" fill-opacity="0.95"/>
<ellipse cx="1074.1" cy="494.3" rx="6.6" ry="5" fill="#083a80" fill-opacity="0.95"/>
<ellipse cx="1064.8" cy="499.9" rx="6.6" ry="5" fill="#3c699b" fill-opacity="0.95"/>
<ellipse cx="1058.5" cy="503.9" rx="6.6" ry="5" fill="#3c699b" fill-opacity="0.95"/>
<ellipse cx="1052.7" cy="508.7" rx="6.6" ry="5" fill="#3c699b" fill-opacity="0.95"/>
<ellipse cx="1047.7" cy="513.2" rx="6.6" ry="5" fill="#3c699b" fill-opacity="0.95"/>
<ellipse cx="1027.0" cy="503.1" rx="6.6" ry="5" fill="#3c699b" fill-opacity="0.95"/>
<ellipse cx="1029.6" cy="516.2" rx="6.6" ry="5" fill="#3c699b" fill-opacity="0.95"/>
<ellipse cx="1025.8" cy="522.8" rx="6.6" ry="5" fill="#2f6da6" fill-opacity="0.95"/>
<ellipse cx="1255.5" cy="485.5" rx="6.6" ry="5" fill="#083a80" fill-opacity="0.95"/>
<ellipse cx="1240.1" cy="487.5" rx="6.6" ry="5" fill="#083a80" fill-opacity="0.95"/>
<ellipse cx="1192.6" cy="494.8" rx="6.6" ry="5" fill="#3c699b" fill-opacity="0.95"/>
<ellipse cx="1162.9" cy="500.6" rx="6.6" ry="5" fill="#3c699b" fill-opacity="0.95"/>
<ellipse cx="1155.8" cy="501.9" rx="6.6" ry="5" fill="#083a80" fill-opacity="0.95"/>
<ellipse cx="1143.5" cy="504.4" rx="6.6" ry="5" fill="#083a80" fill-opacity="0.95"/>
<ellipse cx="1126.4" cy="508.9" rx="6.6" ry="5" fill="#3c699b" fill-opacity="0.95"/>
<ellipse cx="1121.4" cy="510.2" rx="6.6" ry="5" fill="#083a80" fill-opacity="0.95"/>
<ellipse cx="1107.5" cy="514.0" rx="6.6" ry="5" fill="#083a80" fill-opacity="0.95"/>
<ellipse cx="1103.8" cy="515.2" rx="6.6" ry="5" fill="#083a80" fill-opacity="0.95"/>
<ellipse cx="1100.0" cy="516.2" rx="6.6" ry="5" fill="#0b5aa8" fill-opacity="0.95"/>
<ellipse cx="1086.2" cy="523.8" rx="6.6" ry="5" fill="#0b5aa8" fill-opacity="0.95"/>
<ellipse cx="1080.6" cy="524.5" rx="6.6" ry="5" fill="#0b5aa8" fill-opacity="0.95"/>
<ellipse cx="1076.9" cy="525.8" rx="6.6" ry="5" fill="#0b5aa8" fill-opacity="0.95"/>
<ellipse cx="1073.6" cy="526.5" rx="6.6" ry="5" fill="#0b5aa8" fill-opacity="0.95"/>
<ellipse cx="1070.3" cy="528.1" rx="6.6" ry="5" fill="#0b5aa8" fill-opacity="0.95"/>
<ellipse cx="1067.3" cy="529.6" rx="6.6" ry="5" fill="#0b5aa8" fill-opacity="0.95"/>
<ellipse cx="1063.5" cy="531.3" rx="6.6" ry="5" fill="#0b5aa8" fill-opacity="0.95"/>
<ellipse cx="1059.7" cy="532.8" rx="6.6" ry="5" fill="#0b5aa8" fill-opacity="0.95"/>
<ellipse cx="1056.0" cy="534.6" rx="6.6" ry="5" fill="#0b5aa8" fill-opacity="0.95"/>
<ellipse cx="1052.2" cy="536.6" rx="6.6" ry="5" fill="#0b5aa8" fill-opacity="0.95"/>
<ellipse cx="1048.4" cy="538.4" rx="6.6" ry="5" fill="#0b5aa8" fill-opacity="0.95"/>
<ellipse cx="1044.7" cy="540.4" rx="6.6" ry="5" fill="#0a6cbb" fill-opacity="0.95"/>
<ellipse cx="1041.4" cy="542.1" rx="6.6" ry="5" fill="#0a6cbb" fill-opacity="0.95"/>
<ellipse cx="1025.8" cy="539.6" rx="6.6" ry="5" fill="#2d7ab8" fill-opacity="0.95"/>
<ellipse cx="1020.3" cy="539.6" rx="6.6" ry="5" fill="#1e9dd5" fill-opacity="0.95"/>
<ellipse cx="1017.0" cy="538.9" rx="6.6" ry="5" fill="#1e9dd5" fill-opacity="0.95"/>
<ellipse cx="1023.3" cy="545.9" rx="6.6" ry="5" fill="#1e9dd5" fill-opacity="0.95"/>
<ellipse cx="1014.5" cy="544.7" rx="6.6" ry="5" fill="#1e9dd5" fill-opacity="0.95"/>
<ellipse cx="1013.2" cy="548.4" rx="6.6" ry="5" fill="#35aadc" fill-opacity="0.95"/>
<ellipse cx="1037.9" cy="545.4" rx="6.6" ry="5" fill="#0f86c8" fill-opacity="0.95"/>
<ellipse cx="1035.8" cy="547.9" rx="6.6" ry="5" fill="#1e9dd5" fill-opacity="0.95"/>
<ellipse cx="1033.3" cy="550.4" rx="6.6" ry="5" fill="#1e9dd5" fill-opacity="0.95"/>
<ellipse cx="1131.4" cy="551.9" rx="6.6" ry="5" fill="#35aadc" fill-opacity="0.95"/>
<ellipse cx="1141.5" cy="550.9" rx="6.6" ry="5" fill="#1e9dd5" fill-opacity="0.95"/>
<ellipse cx="1152.8" cy="549.2" rx="6.6" ry="5" fill="#1e9dd5" fill-opacity="0.95"/>
<ellipse cx="1166.2" cy="547.9" rx="6.6" ry="5" fill="#1e9dd5" fill-opacity="0.95"/>
<ellipse cx="1181.0" cy="546.4" rx="6.6" ry="5" fill="#0f86c8" fill-opacity="0.95"/>
<ellipse cx="1199.9" cy="544.7" rx="6.6" ry="5" fill="#0f86c8" fill-opacity="0.95"/>
<ellipse cx="1222.8" cy="542.9" rx="6.6" ry="5" fill="#0f86c8" fill-opacity="0.95"/>
<ellipse cx="1251.4" cy="540.9" rx="6.6" ry="5" fill="#0f86c8" fill-opacity="0.95"/>
<ellipse cx="1288.7" cy="538.9" rx="6.6" ry="5" fill="#0a6cbb" fill-opacity="0.95"/>
<ellipse cx="1169.2" cy="111.5" rx="6.6" ry="5" fill="#3c699b" fill-opacity="0.95"/>
<ellipse cx="1232.1" cy="337.2" rx="6.6" ry="5" fill="#3c699b" fill-opacity="0.95"/>
<ellipse cx="1129.4" cy="386.2" rx="6.6" ry="5" fill="#3c699b" fill-opacity="0.95"/>
<ellipse cx="1633.3" cy="388.2" rx="6.6" ry="5" fill="#3c699b" fill-opacity="0.95"/>
<ellipse cx="1316.4" cy="478.5" rx="6.6" ry="5" fill="#083a80" fill-opacity="0.95"/>
<ellipse cx="1343.3" cy="475.5" rx="6.6" ry="5" fill="#3c699b" fill-opacity="0.95"/>
<ellipse cx="1375.0" cy="473.0" rx="6.6" ry="5" fill="#3c699b" fill-opacity="0.95"/>
<ellipse cx="1459.7" cy="466.4" rx="6.6" ry="5" fill="#3c699b" fill-opacity="0.95"/>
<ellipse cx="1593.1" cy="458.6" rx="6.6" ry="5" fill="#3c699b" fill-opacity="0.95"/>
<ellipse cx="1337.7" cy="536.6" rx="6.6" ry="5" fill="#0a6cbb" fill-opacity="0.95"/>
<ellipse cx="1406.9" cy="533.3" rx="6.6" ry="5" fill="#0862b5" fill-opacity="0.95"/>
<path d="M1210.5,89 L1595,89 A11,11 0 0 1 1606,100 L1606,147 A11,11 0 0 1 1595,158 L1210.5,158 A11,11 0 0 1 1199.5,147 L1199.5,117.8 L1181.5,111.8 L1199.5,101.5 L1199.5,100 A11,11 0 0 1 1210.5,89 Z" fill="#fff" stroke="#000" stroke-width="2.1" stroke-linejoin="miter"/>
<text class="cb" x="1246" y="118" word-spacing="4">Mitochondrion organization</text>
<text class="cb" x="1246" y="146.5">(GO:0007005)</text>
<path d="M1024.2,233.5 L1200.2,233.5 A16,16 0 0 1 1216.2,249.5 L1216.2,325.7 A16,16 0 0 1 1200.2,341.7 L1181.8,341.7 L1125.7,369.9 L1130.2,341.7 L1024.2,341.7 A16,16 0 0 1 1008.2,325.7 L1008.2,249.5 A16,16 0 0 1 1024.2,233.5 Z" fill="#fff" stroke="#000" stroke-width="2.1" stroke-linejoin="miter"/>
<text class="cb" x="1034.5" y="266">Cellular</text>
<text class="cb" x="1034.5" y="295">Respiration</text>
<text class="cb" x="1034.5" y="324">(GO:0045333)</text>
<path d="M1232.5,222.7 L1618,222.7 A11,11 0 0 1 1629,233.7 L1629,285 A11,11 0 0 1 1618,296 L1389.3,296 L1240.1,328.4 L1290,296 L1232.5,296 A11,11 0 0 1 1221.5,285 L1221.5,233.7 A11,11 0 0 1 1232.5,222.7 Z" fill="#fff" stroke="#000" stroke-width="2.1" stroke-linejoin="miter"/>
<text class="cb" x="1268.5" y="255" word-spacing="2">Dicarboxylic acid metabolic</text>
<text class="cb" x="1268.5" y="284" word-spacing="2">process (GO:0043648)</text>
<path d="M1264,333 L1590,333 A11,11 0 0 1 1601,344 L1601,394.8 A11,11 0 0 1 1590,405.8 L1264,405.8 A11,11 0 0 1 1253,394.8 L1253,394.5 L1174.2,403.8 L1253,375.7 L1253,344 A11,11 0 0 1 1264,333 Z" fill="#fff" stroke="#000" stroke-width="2.1" stroke-linejoin="miter"/>
<text class="cb" x="1293.5" y="363" word-spacing="3">Mitochondrial transport</text>
<text class="cb" x="1293.5" y="391.5">(GO:0006839)</text>
</g>
<g id="panel-c">
<text class="pl" x="32" y="832">c</text>
<rect x="101.2" y="814" width="707.5" height="550.8" fill="#fff" stroke="#e6e6e6" stroke-width="1.4"/>
<line x1="123.0" y1="814" x2="123.0" y2="1364.8" stroke="#ececec" stroke-width="1.3"/>
<line x1="244.8" y1="814" x2="244.8" y2="1364.8" stroke="#ececec" stroke-width="1.3"/>
<line x1="366.6" y1="814" x2="366.6" y2="1364.8" stroke="#ececec" stroke-width="1.3"/>
<line x1="488.4" y1="814" x2="488.4" y2="1364.8" stroke="#ececec" stroke-width="1.3"/>
<line x1="610.2" y1="814" x2="610.2" y2="1364.8" stroke="#ececec" stroke-width="1.3"/>
<line x1="732.0" y1="814" x2="732.0" y2="1364.8" stroke="#ececec" stroke-width="1.3"/>
<line x1="101.2" y1="1355.3" x2="808.7" y2="1355.3" stroke="#ececec" stroke-width="1.3"/>
<line x1="101.2" y1="1263.8" x2="808.7" y2="1263.8" stroke="#ececec" stroke-width="1.3"/>
<line x1="101.2" y1="1172.3" x2="808.7" y2="1172.3" stroke="#ececec" stroke-width="1.3"/>
<line x1="101.2" y1="1080.8" x2="808.7" y2="1080.8" stroke="#ececec" stroke-width="1.3"/>
<line x1="101.2" y1="989.3" x2="808.7" y2="989.3" stroke="#ececec" stroke-width="1.3"/>
<line x1="101.2" y1="897.8" x2="808.7" y2="897.8" stroke="#ececec" stroke-width="1.3"/>
<line x1="101.2" y1="814" x2="101.2" y2="1365.3" stroke="#111" stroke-width="1.05"/>
<line x1="100.4" y1="1364.8" x2="808.7" y2="1364.8" stroke="#111" stroke-width="1.05"/>
<line x1="123.0" y1="1363.0" x2="123.0" y2="1369.3" stroke="#111" stroke-width="1.2"/>
<text class="tk" text-anchor="middle" transform="translate(123.0 1381.3) scale(1.3 1)">0</text>
<line x1="244.8" y1="1363.0" x2="244.8" y2="1369.3" stroke="#111" stroke-width="1.2"/>
<text class="tk" text-anchor="middle" transform="translate(244.8 1381.3) scale(1.3 1)">10</text>
<line x1="366.6" y1="1363.0" x2="366.6" y2="1369.3" stroke="#111" stroke-width="1.2"/>
<text class="tk" text-anchor="middle" transform="translate(366.6 1381.3) scale(1.3 1)">20</text>
<line x1="488.4" y1="1363.0" x2="488.4" y2="1369.3" stroke="#111" stroke-width="1.2"/>
<text class="tk" text-anchor="middle" transform="translate(488.4 1381.3) scale(1.3 1)">30</text>
<line x1="610.2" y1="1363.0" x2="610.2" y2="1369.3" stroke="#111" stroke-width="1.2"/>
<text class="tk" text-anchor="middle" transform="translate(610.2 1381.3) scale(1.3 1)">40</text>
<line x1="732.0" y1="1363.0" x2="732.0" y2="1369.3" stroke="#111" stroke-width="1.2"/>
<text class="tk" text-anchor="middle" transform="translate(732.0 1381.3) scale(1.3 1)">50</text>
<line x1="147.4" y1="1364.8" x2="147.4" y2="1368.0" stroke="#111" stroke-width="1"/>
<line x1="171.7" y1="1364.8" x2="171.7" y2="1368.0" stroke="#111" stroke-width="1"/>
<line x1="196.1" y1="1364.8" x2="196.1" y2="1368.0" stroke="#111" stroke-width="1"/>
<line x1="220.4" y1="1364.8" x2="220.4" y2="1368.0" stroke="#111" stroke-width="1"/>
<line x1="269.2" y1="1364.8" x2="269.2" y2="1368.0" stroke="#111" stroke-width="1"/>
<line x1="293.5" y1="1364.8" x2="293.5" y2="1368.0" stroke="#111" stroke-width="1"/>
<line x1="317.9" y1="1364.8" x2="317.9" y2="1368.0" stroke="#111" stroke-width="1"/>
<line x1="342.2" y1="1364.8" x2="342.2" y2="1368.0" stroke="#111" stroke-width="1"/>
<line x1="391.0" y1="1364.8" x2="391.0" y2="1368.0" stroke="#111" stroke-width="1"/>
<line x1="415.3" y1="1364.8" x2="415.3" y2="1368.0" stroke="#111" stroke-width="1"/>
<line x1="439.7" y1="1364.8" x2="439.7" y2="1368.0" stroke="#111" stroke-width="1"/>
<line x1="464.0" y1="1364.8" x2="464.0" y2="1368.0" stroke="#111" stroke-width="1"/>
<line x1="512.8" y1="1364.8" x2="512.8" y2="1368.0" stroke="#111" stroke-width="1"/>
<line x1="537.1" y1="1364.8" x2="537.1" y2="1368.0" stroke="#111" stroke-width="1"/>
<line x1="561.5" y1="1364.8" x2="561.5" y2="1368.0" stroke="#111" stroke-width="1"/>
<line x1="585.8" y1="1364.8" x2="585.8" y2="1368.0" stroke="#111" stroke-width="1"/>
<line x1="634.6" y1="1364.8" x2="634.6" y2="1368.0" stroke="#111" stroke-width="1"/>
<line x1="658.9" y1="1364.8" x2="658.9" y2="1368.0" stroke="#111" stroke-width="1"/>
<line x1="683.3" y1="1364.8" x2="683.3" y2="1368.0" stroke="#111" stroke-width="1"/>
<line x1="707.6" y1="1364.8" x2="707.6" y2="1368.0" stroke="#111" stroke-width="1"/>
<line x1="756.4" y1="1364.8" x2="756.4" y2="1368.0" stroke="#111" stroke-width="1"/>
<line x1="780.7" y1="1364.8" x2="780.7" y2="1368.0" stroke="#111" stroke-width="1"/>
<line x1="805.1" y1="1364.8" x2="805.1" y2="1368.0" stroke="#111" stroke-width="1"/>
<line x1="94.2" y1="1355.3" x2="102.9" y2="1355.3" stroke="#111" stroke-width="1.2"/>
<text class="tk" text-anchor="end" transform="translate(87.9 1358.5) scale(1.3 1)">0</text>
<line x1="94.2" y1="1263.8" x2="102.9" y2="1263.8" stroke="#111" stroke-width="1.2"/>
<text class="tk" text-anchor="end" transform="translate(87.9 1267.0) scale(1.3 1)">1</text>
<line x1="94.2" y1="1172.3" x2="102.9" y2="1172.3" stroke="#111" stroke-width="1.2"/>
<text class="tk" text-anchor="end" transform="translate(87.9 1175.5) scale(1.3 1)">2</text>
<line x1="94.2" y1="1080.8" x2="102.9" y2="1080.8" stroke="#111" stroke-width="1.2"/>
<text class="tk" text-anchor="end" transform="translate(87.9 1084.0) scale(1.3 1)">3</text>
<line x1="94.2" y1="989.3" x2="102.9" y2="989.3" stroke="#111" stroke-width="1.2"/>
<text class="tk" text-anchor="end" transform="translate(87.9 992.5) scale(1.3 1)">4</text>
<line x1="94.2" y1="897.8" x2="102.9" y2="897.8" stroke="#111" stroke-width="1.2"/>
<text class="tk" text-anchor="end" transform="translate(87.9 901.0) scale(1.3 1)">5</text>
<line x1="96.9" y1="1337.0" x2="101.2" y2="1337.0" stroke="#111" stroke-width="1"/>
<line x1="96.9" y1="1318.7" x2="101.2" y2="1318.7" stroke="#111" stroke-width="1"/>
<line x1="96.9" y1="1300.4" x2="101.2" y2="1300.4" stroke="#111" stroke-width="1"/>
<line x1="96.9" y1="1282.1" x2="101.2" y2="1282.1" stroke="#111" stroke-width="1"/>
<line x1="96.9" y1="1245.5" x2="101.2" y2="1245.5" stroke="#111" stroke-width="1"/>
<line x1="96.9" y1="1227.2" x2="101.2" y2="1227.2" stroke="#111" stroke-width="1"/>
<line x1="96.9" y1="1208.9" x2="101.2" y2="1208.9" stroke="#111" stroke-width="1"/>
<line x1="96.9" y1="1190.6" x2="101.2" y2="1190.6" stroke="#111" stroke-width="1"/>
<line x1="96.9" y1="1154.0" x2="101.2" y2="1154.0" stroke="#111" stroke-width="1"/>
<line x1="96.9" y1="1135.7" x2="101.2" y2="1135.7" stroke="#111" stroke-width="1"/>
<line x1="96.9" y1="1117.4" x2="101.2" y2="1117.4" stroke="#111" stroke-width="1"/>
<line x1="96.9" y1="1099.1" x2="101.2" y2="1099.1" stroke="#111" stroke-width="1"/>
<line x1="96.9" y1="1062.5" x2="101.2" y2="1062.5" stroke="#111" stroke-width="1"/>
<line x1="96.9" y1="1044.2" x2="101.2" y2="1044.2" stroke="#111" stroke-width="1"/>
<line x1="96.9" y1="1025.9" x2="101.2" y2="1025.9" stroke="#111" stroke-width="1"/>
<line x1="96.9" y1="1007.6" x2="101.2" y2="1007.6" stroke="#111" stroke-width="1"/>
<line x1="96.9" y1="971.0" x2="101.2" y2="971.0" stroke="#111" stroke-width="1"/>
<line x1="96.9" y1="952.7" x2="101.2" y2="952.7" stroke="#111" stroke-width="1"/>
<line x1="96.9" y1="934.4" x2="101.2" y2="934.4" stroke="#111" stroke-width="1"/>
<line x1="96.9" y1="916.1" x2="101.2" y2="916.1" stroke="#111" stroke-width="1"/>
<line x1="96.9" y1="879.5" x2="101.2" y2="879.5" stroke="#111" stroke-width="1"/>
<line x1="96.9" y1="861.2" x2="101.2" y2="861.2" stroke="#111" stroke-width="1"/>
<line x1="96.9" y1="842.9" x2="101.2" y2="842.9" stroke="#111" stroke-width="1"/>
<line x1="96.9" y1="824.6" x2="101.2" y2="824.6" stroke="#111" stroke-width="1"/>
<text class="ax" text-anchor="middle" transform="translate(455.5 1397.8) scale(1.3 1)">Odds Ratio</text>
<text class="ax" style="font-size:10.8px" text-anchor="middle" transform="translate(68.5 1091) scale(1.3 1) rotate(-90)">-log10(p-value)</text>
<ellipse cx="189.9" cy="1239.1" rx="3.2" ry="2.6" fill="#7d7d7d" fill-opacity="0.72"/>
<ellipse cx="180.6" cy="1250.2" rx="3.2" ry="2.6" fill="#7d7d7d" fill-opacity="0.72"/>
<ellipse cx="178.1" cy="1252.2" rx="3.2" ry="2.6" fill="#7d7d7d" fill-opacity="0.72"/>
<ellipse cx="173.6" cy="1258.5" rx="3.2" ry="2.6" fill="#7d7d7d" fill-opacity="0.72"/>
<ellipse cx="171.8" cy="1260.5" rx="3.2" ry="2.6" fill="#7d7d7d" fill-opacity="0.72"/>
<ellipse cx="169.8" cy="1263.5" rx="3.2" ry="2.6" fill="#7d7d7d" fill-opacity="0.72"/>
<ellipse cx="168.1" cy="1264.8" rx="3.2" ry="2.6" fill="#7d7d7d" fill-opacity="0.72"/>
<ellipse cx="164.0" cy="1271.1" rx="3.2" ry="2.6" fill="#7d7d7d" fill-opacity="0.72"/>
<ellipse cx="161.0" cy="1276.1" rx="3.2" ry="2.6" fill="#7d7d7d" fill-opacity="0.72"/>
<ellipse cx="159.0" cy="1278.1" rx="3.2" ry="2.6" fill="#7d7d7d" fill-opacity="0.72"/>
<ellipse cx="155.0" cy="1286.2" rx="3.2" ry="2.6" fill="#7d7d7d" fill-opacity="0.72"/>
<ellipse cx="148.9" cy="1298.2" rx="3.2" ry="2.6" fill="#7d7d7d" fill-opacity="0.72"/>
<ellipse cx="145.4" cy="1304.5" rx="3.2" ry="2.6" fill="#7d7d7d" fill-opacity="0.72"/>
<ellipse cx="353.0" cy="1239.9" rx="3.2" ry="2.6" fill="#7d7d7d" fill-opacity="0.72"/>
<ellipse cx="319.5" cy="1245.9" rx="3.2" ry="2.6" fill="#7d7d7d" fill-opacity="0.72"/>
<ellipse cx="309.9" cy="1247.7" rx="3.2" ry="2.6" fill="#7d7d7d" fill-opacity="0.72"/>
<ellipse cx="301.9" cy="1249.2" rx="3.2" ry="2.6" fill="#7d7d7d" fill-opacity="0.72"/>
<ellipse cx="300.6" cy="1249.7" rx="3.2" ry="2.6" fill="#7d7d7d" fill-opacity="0.72"/>
<ellipse cx="293.3" cy="1250.9" rx="3.2" ry="2.6" fill="#7d7d7d" fill-opacity="0.72"/>
<ellipse cx="273.7" cy="1255.5" rx="3.2" ry="2.6" fill="#7d7d7d" fill-opacity="0.72"/>
<ellipse cx="253.3" cy="1260.8" rx="3.2" ry="2.6" fill="#7d7d7d" fill-opacity="0.72"/>
<ellipse cx="237.7" cy="1265.3" rx="3.2" ry="2.6" fill="#7d7d7d" fill-opacity="0.72"/>
<ellipse cx="234.0" cy="1266.5" rx="3.2" ry="2.6" fill="#7d7d7d" fill-opacity="0.72"/>
<ellipse cx="230.9" cy="1267.5" rx="3.2" ry="2.6" fill="#7d7d7d" fill-opacity="0.72"/>
<ellipse cx="227.7" cy="1268.6" rx="3.2" ry="2.6" fill="#7d7d7d" fill-opacity="0.72"/>
<ellipse cx="220.1" cy="1271.6" rx="3.2" ry="2.6" fill="#7d7d7d" fill-opacity="0.72"/>
<ellipse cx="214.6" cy="1273.6" rx="3.2" ry="2.6" fill="#7d7d7d" fill-opacity="0.72"/>
<ellipse cx="212.6" cy="1274.1" rx="3.2" ry="2.6" fill="#7d7d7d" fill-opacity="0.72"/>
<ellipse cx="154.7" cy="1309.3" rx="3.2" ry="2.6" fill="#7d7d7d" fill-opacity="0.72"/>
<ellipse cx="150.9" cy="1313.8" rx="3.2" ry="2.6" fill="#7d7d7d" fill-opacity="0.72"/>
<ellipse cx="148.4" cy="1316.4" rx="3.2" ry="2.6" fill="#7d7d7d" fill-opacity="0.72"/>
<ellipse cx="145.9" cy="1318.4" rx="3.2" ry="2.6" fill="#7d7d7d" fill-opacity="0.72"/>
<ellipse cx="142.1" cy="1323.9" rx="3.2" ry="2.6" fill="#7d7d7d" fill-opacity="0.72"/>
<ellipse cx="140.9" cy="1325.7" rx="3.2" ry="2.6" fill="#7d7d7d" fill-opacity="0.72"/>
<ellipse cx="139.6" cy="1327.7" rx="3.2" ry="2.6" fill="#7d7d7d" fill-opacity="0.72"/>
<ellipse cx="138.4" cy="1329.4" rx="3.2" ry="2.6" fill="#7d7d7d" fill-opacity="0.72"/>
<ellipse cx="137.1" cy="1331.4" rx="3.2" ry="2.6" fill="#7d7d7d" fill-opacity="0.72"/>
<ellipse cx="136.6" cy="1326.4" rx="3.2" ry="2.6" fill="#7d7d7d" fill-opacity="0.72"/>
<ellipse cx="132.6" cy="1339.7" rx="3.2" ry="2.6" fill="#7d7d7d" fill-opacity="0.72"/>
<ellipse cx="191.7" cy="1284.4" rx="3.2" ry="2.6" fill="#7d7d7d" fill-opacity="0.72"/>
<ellipse cx="190.2" cy="1285.1" rx="3.2" ry="2.6" fill="#7d7d7d" fill-opacity="0.72"/>
<ellipse cx="188.6" cy="1285.8" rx="3.2" ry="2.6" fill="#7d7d7d" fill-opacity="0.72"/>
<ellipse cx="187.1" cy="1286.5" rx="3.2" ry="2.6" fill="#7d7d7d" fill-opacity="0.72"/>
<ellipse cx="185.6" cy="1287.3" rx="3.2" ry="2.6" fill="#7d7d7d" fill-opacity="0.72"/>
<ellipse cx="184.0" cy="1288.1" rx="3.2" ry="2.6" fill="#7d7d7d" fill-opacity="0.72"/>
<ellipse cx="182.5" cy="1288.8" rx="3.2" ry="2.6" fill="#7d7d7d" fill-opacity="0.72"/>
<ellipse cx="181.0" cy="1289.7" rx="3.2" ry="2.6" fill="#7d7d7d" fill-opacity="0.72"/>
<ellipse cx="179.4" cy="1290.5" rx="3.2" ry="2.6" fill="#7d7d7d" fill-opacity="0.72"/>
<ellipse cx="177.9" cy="1291.4" rx="3.2" ry="2.6" fill="#7d7d7d" fill-opacity="0.72"/>
<ellipse cx="176.4" cy="1292.3" rx="3.2" ry="2.6" fill="#7d7d7d" fill-opacity="0.72"/>
<ellipse cx="174.8" cy="1293.3" rx="3.2" ry="2.6" fill="#7d7d7d" fill-opacity="0.72"/>
<ellipse cx="173.3" cy="1294.3" rx="3.2" ry="2.6" fill="#7d7d7d" fill-opacity="0.72"/>
<ellipse cx="171.7" cy="1295.3" rx="3.2" ry="2.6" fill="#7d7d7d" fill-opacity="0.72"/>
<ellipse cx="170.2" cy="1296.4" rx="3.2" ry="2.6" fill="#7d7d7d" fill-opacity="0.72"/>
<ellipse cx="168.7" cy="1297.5" rx="3.2" ry="2.6" fill="#7d7d7d" fill-opacity="0.72"/>
<ellipse cx="167.1" cy="1298.6" rx="3.2" ry="2.6" fill="#7d7d7d" fill-opacity="0.72"/>
<ellipse cx="165.6" cy="1299.8" rx="3.2" ry="2.6" fill="#7d7d7d" fill-opacity="0.72"/>
<ellipse cx="164.1" cy="1300.9" rx="3.2" ry="2.6" fill="#7d7d7d" fill-opacity="0.72"/>
<ellipse cx="162.5" cy="1302.1" rx="3.2" ry="2.6" fill="#7d7d7d" fill-opacity="0.72"/>
<ellipse cx="161.0" cy="1303.3" rx="3.2" ry="2.6" fill="#7d7d7d" fill-opacity="0.72"/>
<ellipse cx="253.3" cy="838.4" rx="6.6" ry="5" fill="#3c699b" fill-opacity="0.95"/>
<ellipse cx="245.3" cy="909.1" rx="6.6" ry="5" fill="#3c699b" fill-opacity="0.95"/>
<ellipse cx="206.5" cy="919.1" rx="6.6" ry="5" fill="#3c699b" fill-opacity="0.95"/>
<ellipse cx="221.6" cy="961.1" rx="6.6" ry="5" fill="#3c699b" fill-opacity="0.95"/>
<ellipse cx="204.0" cy="1007.7" rx="6.6" ry="5" fill="#3c699b" fill-opacity="0.95"/>
<ellipse cx="226.4" cy="1049.7" rx="6.6" ry="5" fill="#3c699b" fill-opacity="0.95"/>
<ellipse cx="374.8" cy="1057.7" rx="6.6" ry="5" fill="#3c699b" fill-opacity="0.95"/>
<ellipse cx="192.2" cy="1080.9" rx="6.6" ry="5" fill="#3c699b" fill-opacity="0.95"/>
<ellipse cx="239.2" cy="1084.7" rx="6.6" ry="5" fill="#3c699b" fill-opacity="0.95"/>
<ellipse cx="230.2" cy="1096.5" rx="6.6" ry="5" fill="#3c699b" fill-opacity="0.95"/>
<ellipse cx="227.2" cy="1100.8" rx="6.6" ry="5" fill="#1d4f8c" fill-opacity="0.95"/>
<ellipse cx="218.9" cy="1112.1" rx="6.6" ry="5" fill="#3c699b" fill-opacity="0.95"/>
<ellipse cx="243.5" cy="1138.5" rx="6.6" ry="5" fill="#3570a6" fill-opacity="0.95"/>
<ellipse cx="396.7" cy="1139.2" rx="6.6" ry="5" fill="#0a4a8e" fill-opacity="0.95"/>
<ellipse cx="198.7" cy="1144.3" rx="6.6" ry="5" fill="#0a4f96" fill-opacity="0.95"/>
<ellipse cx="197.0" cy="1146.5" rx="6.6" ry="5" fill="#1a5698" fill-opacity="0.95"/>
<ellipse cx="214.6" cy="1167.4" rx="6.6" ry="5" fill="#1a66aa" fill-opacity="0.95"/>
<ellipse cx="210.1" cy="1172.5" rx="6.6" ry="5" fill="#1a66aa" fill-opacity="0.95"/>
<ellipse cx="296.9" cy="1173.2" rx="6.6" ry="5" fill="#0b5aa8" fill-opacity="0.95"/>
<ellipse cx="293.1" cy="1174.5" rx="6.6" ry="5" fill="#0b5aa8" fill-opacity="0.95"/>
<ellipse cx="289.3" cy="1175.5" rx="6.6" ry="5" fill="#0b5aa8" fill-opacity="0.95"/>
<ellipse cx="284.8" cy="1178.0" rx="6.6" ry="5" fill="#1a72b8" fill-opacity="0.95"/>
<ellipse cx="265.4" cy="1187.0" rx="6.6" ry="5" fill="#0a6cbb" fill-opacity="0.95"/>
<ellipse cx="261.6" cy="1188.3" rx="6.6" ry="5" fill="#0a6cbb" fill-opacity="0.95"/>
<ellipse cx="195.2" cy="1191.1" rx="6.6" ry="5" fill="#1776bb" fill-opacity="0.95"/>
<ellipse cx="189.7" cy="1198.4" rx="6.6" ry="5" fill="#1f7fc2" fill-opacity="0.95"/>
<ellipse cx="234.5" cy="1203.4" rx="6.6" ry="5" fill="#0a6cbb" fill-opacity="0.95"/>
<ellipse cx="231.4" cy="1204.4" rx="6.6" ry="5" fill="#0a6cbb" fill-opacity="0.95"/>
<ellipse cx="227.9" cy="1207.9" rx="6.6" ry="5" fill="#0a6cbb" fill-opacity="0.95"/>
<ellipse cx="215.6" cy="1216.5" rx="6.6" ry="5" fill="#2d9ad6" fill-opacity="0.95"/>
<ellipse cx="174.1" cy="1224.0" rx="6.6" ry="5" fill="#3fa6dc" fill-opacity="0.95"/>
<ellipse cx="193.7" cy="1235.3" rx="6.6" ry="5" fill="#7cc3e6" fill-opacity="0.95"/>
<ellipse cx="556.4" cy="998.1" rx="6.6" ry="5" fill="#3c699b" fill-opacity="0.95"/>
<ellipse cx="776.5" cy="1202.9" rx="6.6" ry="5" fill="#2e94d0" fill-opacity="0.95"/>
<path d="M278.2,854.2 L568.5,854.2 A9,9 0 0 1 577.5,863.2 L577.5,891.8 A9,9 0 0 1 568.5,900.8 L278.2,900.8 A9,9 0 0 1 269.2,891.8 L269.2,893.7 L250.8,900.8 L269.2,881.9 L269.2,863.2 A9,9 0 0 1 278.2,854.2 Z" fill="#fff" stroke="#000" stroke-width="2.1" stroke-linejoin="miter"/>
<text class="cb" x="309.5" y="888" word-spacing="2">Parkinson’s disease</text>
<path d="M241,977.5 L526,977.5 A9,9 0 0 1 535,986.5 L535,1017.3 A9,9 0 0 1 526,1026.3 L241,1026.3 A9,9 0 0 1 232,1017.3 L232,1016.5 L215.1,1003.9 L232,1004.7 L232,986.5 A9,9 0 0 1 241,977.5 Z" fill="#fff" stroke="#000" stroke-width="2.1" stroke-linejoin="miter"/>
<text class="cb" x="258" y="1011.5" xml:space="preserve" word-spacing="0.7">Alzheimer’s  disease</text>
<path d="M564.8,928.4 L730,928.4 A9,9 0 0 1 739,937.4 L739,966 A9,9 0 0 1 730,975 L631.8,975 L567.2,991.3 L587.3,975 L564.8,975 A9,9 0 0 1 555.8,966 L555.8,937.4 A9,9 0 0 1 564.8,928.4 Z" fill="#fff" stroke="#000" stroke-width="2.1" stroke-linejoin="miter"/>
<text class="cb" x="584.5" y="961.8">TCA cycle</text>
<path d="M407,1209.2 L735.5,1209.2 A10,10 0 0 1 745.5,1219.2 L745.5,1216.6 L767.5,1209.8 L745.5,1229 L745.5,1247 A10,10 0 0 1 735.5,1257 L407,1257 A10,10 0 0 1 397,1247 L397,1219.2 A10,10 0 0 1 407,1209.2 Z" fill="#fff" stroke="#000" stroke-width="2.1" stroke-linejoin="miter"/>
<text class="cb" x="433" y="1243.5" word-spacing="2">Phe, Tyr, Trp biogenesis</text>
</g>
<g id="panel-d">
<text class="pl" x="864" y="831">d</text>
<defs><linearGradient id="lgd" x1="0" y1="0" x2="0" y2="1">
<stop offset="0%" stop-color="#0d00fe"/>
<stop offset="5%" stop-color="#5200f9"/>
<stop offset="10%" stop-color="#6f00ec"/>
<stop offset="15%" stop-color="#8b00dd"/>
<stop offset="20%" stop-color="#a100ce"/>
<stop offset="25%" stop-color="#b500c0"/>
<stop offset="30%" stop-color="#c600b2"/>
<stop offset="35%" stop-color="#d300a6"/>
<stop offset="40%" stop-color="#df0099"/>
<stop offset="45%" stop-color="#e9008b"/>
<stop offset="50%" stop-color="#f1007c"/>
<stop offset="55%" stop-color="#f7006d"/>
<stop offset="60%" stop-color="#fb005e"/>
<stop offset="65%" stop-color="#fe0050"/>
<stop offset="70%" stop-color="#ff0043"/>
<stop offset="75%" stop-color="#ff0039"/>
<stop offset="80%" stop-color="#ff002e"/>
<stop offset="85%" stop-color="#ff0023"/>
<stop offset="90%" stop-color="#ff0018"/>
<stop offset="95%" stop-color="#ff000d"/>
<stop offset="100%" stop-color="#ff0002"/>
</linearGradient></defs>
<rect x="989.7" y="827.6" width="37.5" height="201.2" fill="url(#lgd)"/>
<line x1="989.7" y1="841.6" x2="997.2" y2="841.6" stroke="#fff" stroke-opacity="0.7" stroke-width="1.5"/>
<line x1="1019.7" y1="841.6" x2="1027.2" y2="841.6" stroke="#fff" stroke-opacity="0.7" stroke-width="1.5"/>
<text class="lg" x="1048.4" y="853.9">2.0</text>
<line x1="989.7" y1="882.5" x2="997.2" y2="882.5" stroke="#fff" stroke-opacity="0.7" stroke-width="1.5"/>
<line x1="1019.7" y1="882.5" x2="1027.2" y2="882.5" stroke="#fff" stroke-opacity="0.7" stroke-width="1.5"/>
<text class="lg" x="1048.4" y="894.8">2.5</text>
<line x1="989.7" y1="923.3" x2="997.2" y2="923.3" stroke="#fff" stroke-opacity="0.7" stroke-width="1.5"/>
<line x1="1019.7" y1="923.3" x2="1027.2" y2="923.3" stroke="#fff" stroke-opacity="0.7" stroke-width="1.5"/>
<text class="lg" x="1048.4" y="935.6">3.0</text>
<line x1="989.7" y1="964.2" x2="997.2" y2="964.2" stroke="#fff" stroke-opacity="0.7" stroke-width="1.5"/>
<line x1="1019.7" y1="964.2" x2="1027.2" y2="964.2" stroke="#fff" stroke-opacity="0.7" stroke-width="1.5"/>
<text class="lg" x="1048.4" y="976.5">3.5</text>
<line x1="989.7" y1="1005.1" x2="997.2" y2="1005.1" stroke="#fff" stroke-opacity="0.7" stroke-width="1.5"/>
<line x1="1019.7" y1="1005.1" x2="1027.2" y2="1005.1" stroke="#fff" stroke-opacity="0.7" stroke-width="1.5"/>
<text class="lg" x="1048.4" y="1017.4">4.0</text>
<text class="ti" text-anchor="middle" transform="translate(960.5 933) rotate(-90)">-log<tspan font-size="16.5" dy="5">10</tspan><tspan dy="-5"> (FDR)</tspan></text>
<text class="ti" text-anchor="middle" transform="translate(924.5 1376) rotate(-90)">-log<tspan font-size="16.5" dy="5">10</tspan><tspan dy="-5"> (FDR)</tspan></text>
<rect x="1005.3" y="1277.2" width="664.6" height="195.6" fill="#ebebeb"/>
<rect x="1013.7" y="1286" width="35.2" height="74.8" fill="#0000ff"/>
<rect x="1028.8" y="1266.3" width="5" height="10.9" fill="#222"/>
<text class="dl" transform="translate(1045.0 1253) rotate(-65.7)">Presequence pathway of mitochondrial protein import</text>
<rect x="1057.4" y="1286" width="35.2" height="74.8" fill="#0000ff"/>
<rect x="1072.5" y="1266.3" width="5" height="10.9" fill="#222"/>
<text class="dl" transform="translate(1088.7 1253) rotate(-65.7)">Mitochondrial autophagy</text>
<rect x="1101.2" y="1286" width="35.2" height="74.8" fill="#0000ff"/>
<rect x="1116.3" y="1266.3" width="5" height="10.9" fill="#222"/>
<text class="dl" transform="translate(1132.5 1253) rotate(-65.7)">Pyruvate dehydrogenase E3 deficiency</text>
<rect x="1144.9" y="1286" width="35.2" height="74.8" fill="#0000ff"/>
<rect x="1160.0" y="1266.3" width="5" height="10.9" fill="#222"/>
<text class="dl" transform="translate(1176.2 1253) rotate(-65.7)">Pyruvate dehydrogenase E2 deficiency</text>
<rect x="1188.7" y="1286" width="35.2" height="99.5" fill="#b000c4"/>
<rect x="1203.8" y="1266.3" width="5" height="10.9" fill="#222"/>
<text class="dl" transform="translate(1220.0 1253) rotate(-65.7)">Carnosinemia</text>
<rect x="1232.4" y="1286" width="35.2" height="99.5" fill="#b000c4"/>
<rect x="1247.5" y="1266.3" width="5" height="10.9" fill="#222"/>
<text class="dl" transform="translate(1263.7 1253) rotate(-65.7)">GABA aminotransferase deficiency</text>
<rect x="1276.1" y="1286" width="35.2" height="103.2" fill="#be00b9"/>
<rect x="1291.2" y="1266.3" width="5" height="10.9" fill="#222"/>
<text class="dl" transform="translate(1307.4 1253) rotate(-65.7)">Mitochondria fusion</text>
<rect x="1319.9" y="1286" width="35.2" height="78.9" fill="#4600fc"/>
<rect x="1335.0" y="1266.3" width="5" height="10.9" fill="#222"/>
<text class="dl" transform="translate(1351.2 1253) rotate(-65.7)">Gluconeogenesis</text>
<rect x="1363.6" y="1286" width="35.2" height="90.4" fill="#8900de"/>
<rect x="1378.7" y="1266.3" width="5" height="10.9" fill="#222"/>
<text class="dl" transform="translate(1394.9 1253) rotate(-65.7)">Arginine and proline metabolic</text>
<rect x="1407.4" y="1286" width="35.2" height="108.0" fill="#cb00ad"/>
<rect x="1422.5" y="1266.3" width="5" height="10.9" fill="#222"/>
<text class="dl" transform="translate(1438.7 1253) rotate(-65.7)">Nicotinamide adenine dinucleotide metabolic</text>
<rect x="1451.1" y="1286" width="35.2" height="123.9" fill="#ee0084"/>
<rect x="1466.2" y="1266.3" width="5" height="10.9" fill="#222"/>
<text class="dl" transform="translate(1482.4 1253) rotate(-65.7)">Citric acid cycle</text>
<rect x="1494.8" y="1286" width="35.2" height="99.5" fill="#b000c4"/>
<rect x="1509.9" y="1266.3" width="5" height="10.9" fill="#222"/>
<text class="dl" transform="translate(1526.1 1253) rotate(-65.7)">Oxidative phosphorylation</text>
<rect x="1538.6" y="1286" width="35.2" height="108.0" fill="#cb00ad"/>
<rect x="1553.7" y="1266.3" width="5" height="10.9" fill="#222"/>
<text class="dl" transform="translate(1569.9 1253) rotate(-65.7)">Alzheimer’s disease</text>
<rect x="1582.3" y="1286" width="35.2" height="165.2" fill="#ff001c"/>
<rect x="1597.4" y="1266.3" width="5" height="10.9" fill="#222"/>
<text class="dl" transform="translate(1613.6 1253) rotate(-65.7)">Parkinson’s disease</text>
<rect x="1626.1" y="1286" width="35.2" height="178.0" fill="#ff0000"/>
<rect x="1641.2" y="1266.3" width="5" height="10.9" fill="#222"/>
<text class="dl" transform="translate(1657.4 1253) rotate(-65.7)">Huntington’s disease</text>
<rect x="990.3" y="1283.9" width="15" height="4.2" fill="#222"/>
<text class="yd" transform="translate(956.6 1286.0) rotate(90) scale(0.74 1)">0</text>
<rect x="990.3" y="1325.2" width="15" height="4.2" fill="#222"/>
<text class="yd" transform="translate(956.6 1327.3) rotate(90) scale(0.74 1)">1</text>
<rect x="990.3" y="1366.5" width="15" height="4.2" fill="#222"/>
<text class="yd" transform="translate(956.6 1368.6) rotate(90) scale(0.74 1)">2</text>
<rect x="990.3" y="1407.8" width="15" height="4.2" fill="#222"/>
<text class="yd" transform="translate(956.6 1409.9) rotate(90) scale(0.74 1)">3</text>
<rect x="990.3" y="1449.1" width="15" height="4.2" fill="#222"/>
<text class="yd" transform="translate(956.6 1451.2) rotate(90) scale(0.74 1)">4</text>
</g>
</svg></body></html>
